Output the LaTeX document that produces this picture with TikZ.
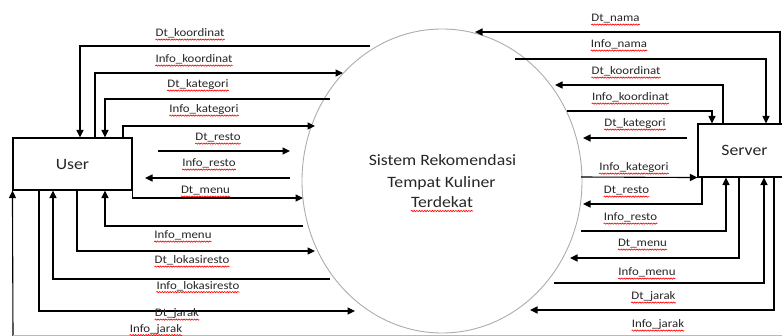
\documentclass[tikz,border=0pt]{standalone}
\usepackage{fontspec}
\setmainfont{Carlito}
\newfontfamily\cfont{Carlito}[FakeStretch=1.12]
\usetikzlibrary{arrows.meta,shapes.geometric,decorations.pathmorphing}
\newcommand\myLblFont{\cfont\fontsize{11.5}{13}\selectfont}
\newcommand\myCtrFont{\cfont\fontsize{15.8}{19}\selectfont}
\newlength\wAA
\begin{document}
\begin{tikzpicture}[x=1pt,y=-1pt,
  arr/.style={line width=1.1pt,-{Triangle[length=7.5pt,width=7pt]}},
  plain/.style={line width=1.1pt},
  wavy/.style={draw=red, line width=0.65pt, decorate, decoration={snake, amplitude=0.6pt, segment length=2.6pt}},
  lbl/.style={font=\myLblFont, text=black!85, inner sep=0pt, anchor=base,
    append after command={([yshift=-2.6pt]\tikzlastnode.base west) edge[wavy] ([yshift=-2.6pt]\tikzlastnode.base east)}},
  ctr/.style={font=\myCtrFont, text=black!85, inner sep=0pt, anchor=base},
  box/.style={draw, line width=1.1pt, font=\myCtrFont, text=black!85, inner sep=0pt}]
\useasboundingbox (0,0) rectangle (782,336);
\clip (0,0) rectangle (782,336);

% process
\node[ellipse, draw=gray!65, line width=0.9pt, minimum width=280pt, minimum height=304pt, inner sep=0pt] (sys) at (442,181) {};
\node[ctr] (t1) at (442.5,165.7) {Sistem Rekomendasi};
\node[ctr] (t2) at (441.5,187.7) {Tempat Kuliner};
\node[ctr] (t3) at (442,208) {Terdekat};
\settowidth{\wAA}{\myCtrFont Sistem}
\draw[wavy] ([yshift=-3pt]t1.base west) -- ++(\wAA,0);
\settowidth{\wAA}{\myCtrFont Rekomendasi}
\draw[wavy] ([yshift=-3pt,xshift=-\wAA]t1.base east) -- ([yshift=-3pt]t1.base east);
\settowidth{\wAA}{\myCtrFont Tempat}
\draw[wavy] ([yshift=-3pt]t2.base west) -- ++(\wAA,0);
\settowidth{\wAA}{\myCtrFont Kuliner}
\draw[wavy] ([yshift=-3pt,xshift=-\wAA]t2.base east) -- ([yshift=-3pt]t2.base east);
\draw[wavy] ([yshift=-3pt]t3.base west) -- ([yshift=-3pt]t3.base east);

% entities
\node[box, minimum width=119pt, minimum height=52pt] (user) at (72.5,164) {User};
\node[box, minimum width=93pt, minimum height=53pt] (server) at (744.5,150.5) {Server};

% left flows
\draw[arr] (370,46) -| (user.north -| 80,0);
\draw[arr] (user.north -| 95,0) |- (343,73);
\draw[arr] (330,99) -| (user.north -| 105,0);
\draw[arr] (user.north -| 123,0) |- (315,126);
\draw[arr] (158,151) -- (290,151);
\draw[arr] (290,178) -- (145,178);
\draw[arr] (user.south east) |- (303,198);
\draw[arr] (303,226) -| (user.south -| 105,0);
\draw[arr] (user.south -| 77,0) |- (315,251);
\draw[arr] (330,279) -| (user.south -| 53,0);
\draw[arr] (user.south -| 39,0) |- (355,311);
\draw[arr] (13,336) -- (user.south west);
\draw[gray!55, line width=1pt] (13,335.5) -- (782,335.5);

% right flows
\draw[arr] (server.north -| 780,0) |- (475,32);
\draw[arr] (515,59) -| (server.north -| 766,0);
\draw[arr] (server.north -| 723,0) |- (555,85);
\draw[arr] (567,111) -| (server.north -| 712,0);
\draw[arr] (687,138) -- (583,138);
\draw[arr] (581,177) -- (server.south west);
\draw[arr] (server.south -| 702,0) |- (583,204);
\draw[arr] (581,231) -| (server.south -| 726,0);
\draw[arr] (server.south -| 739,0) |- (570,258);
\draw[arr] (554,283) -| (server.south -| 764,0);
\draw[arr] (server.south -| 774,0) |- (530,310);

% left labels
\node[lbl] (l1) at (190,37) {Dt\_koordinat};
\node[lbl] (l2) at (194,63) {Info\_koordinat};
\node[lbl] (l3) at (198,88) {Dt\_kategori};
\node[lbl] (l4) at (204,113) {Info\_kategori};
\node[lbl] (l5) at (218,141) {Dt\_resto};
\node[lbl] (l6) at (209,167) {Info\_resto};
\node[lbl] (l7) at (205.5,194) {Dt\_menu};
\node[lbl] (l8) at (183,239) {Info\_menu};
\node[lbl] (l9) at (192,264) {Dt\_lokasiresto};
\node[lbl] (l10) at (198,289.5) {Info\_lokasiresto};
\node[lbl] (l11) at (177,317) {Dt\_jarak};
\node[lbl] (l12) at (156,332.5) {Info\_jarak};

% right labels
\node[lbl] (r1) at (615.5,22) {Dt\_nama};
\node[lbl] (r2) at (619,48) {Info\_nama};
\node[lbl] (r3) at (626,75) {Dt\_koordinat};
\node[lbl] (r4) at (630.5,101) {Info\_koordinat};
\node[lbl] (r5) at (635,127) {Dt\_kategori};
\node[lbl] (r6) at (634,171) {Info\_kategori};
\node[lbl] (r7) at (626.5,194) {Dt\_resto};
\node[lbl] (r8) at (630.5,221) {Info\_resto};
\node[lbl] (r9) at (642.5,247) {Dt\_menu};
\node[lbl] (r10) at (647,276) {Info\_menu};
\node[lbl] (r11) at (653.5,300) {Dt\_jarak};
\node[lbl] (r12) at (658,328) {Info\_jarak};
\end{tikzpicture}
\end{document}
